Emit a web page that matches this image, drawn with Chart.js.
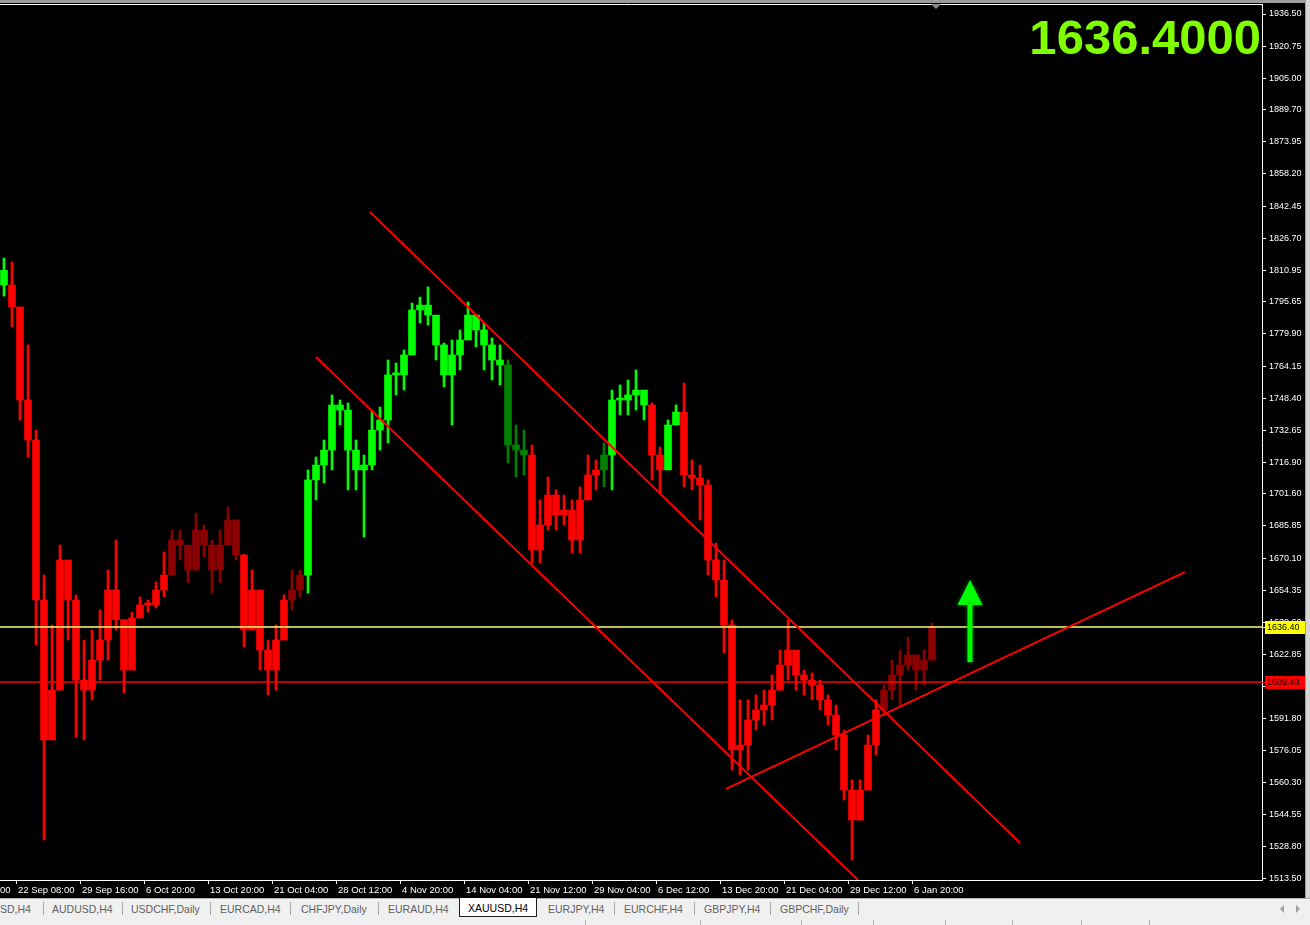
<!DOCTYPE html>
<html>
<head>
<meta charset="utf-8">
<title>XAUUSD,H4</title>
<script src="https://cdn.jsdelivr.net/npm/chart.js@4.4.1/dist/chart.umd.min.js"></script>
<style>
html, body { margin: 0; padding: 0; width: 1310px; height: 925px; overflow: hidden; background: #000; font-family: 'Liberation Sans', Arial, sans-serif; }
#wrap { position: absolute; left: 0; top: 0; width: 1305px; height: 898px; }
#frameRight { position: absolute; left: 1305px; top: 0; width: 5px; height: 898px; background: #d6d6d6; border-left: 1px solid #a0a0a0; box-sizing: border-box; }
#tabs { position: absolute; left: 0; top: 898px; width: 1310px; height: 20px; background: #f0f0f0; border-top: 1px solid #b0b0b0; box-sizing: border-box; font-size: 10.5px; color: #606060; }
.tab { position: absolute; top: 4px; white-space: nowrap; }
.sep { position: absolute; top: 3px; width: 1px; height: 13px; background: #a8a8a8; }
#active { position: absolute; left: 459px; top: -1px; width: 78px; height: 19px; background: #fff; border: 1px solid #202020; border-top: none; box-sizing: border-box; }
#active span { position: absolute; left: 8px; top: 4px; color: #000; }
.arr { position: absolute; top: 6px; width: 0; height: 0; border-top: 4px solid transparent; border-bottom: 4px solid transparent; }
#status { position: absolute; left: 0; top: 918px; width: 1310px; height: 7px; background: #f0f0f0; }
.ssep { position: absolute; top: 2px; width: 1px; height: 5px; background: #b0b0b0; }
</style>
</head>
<body>
<div id="wrap"><canvas id="graficoOuro"></canvas></div>
<div id="frameRight"></div>
<div id="tabs">
  <span class="tab" style="left:0px">SD,H4</span><div class="sep" style="left:43px"></div>
  <span class="tab" style="left:52px">AUDUSD,H4</span><div class="sep" style="left:122px"></div>
  <span class="tab" style="left:131px">USDCHF,Daily</span><div class="sep" style="left:210px"></div>
  <span class="tab" style="left:220px">EURCAD,H4</span><div class="sep" style="left:290px"></div>
  <span class="tab" style="left:301px">CHFJPY,Daily</span><div class="sep" style="left:378px"></div>
  <span class="tab" style="left:388px">EURAUD,H4</span>
  <div id="active"><span>XAUUSD,H4</span></div>
  <span class="tab" style="left:548px">EURJPY,H4</span><div class="sep" style="left:614px"></div>
  <span class="tab" style="left:624px">EURCHF,H4</span><div class="sep" style="left:694px"></div>
  <span class="tab" style="left:704px">GBPJPY,H4</span><div class="sep" style="left:770px"></div>
  <span class="tab" style="left:780px">GBPCHF,Daily</span><div class="sep" style="left:858px"></div>
  <div class="arr" style="left:1280px; border-right:4px solid #a0a0a0"></div>
  <div class="arr" style="left:1296px; border-left:4px solid #a0a0a0"></div>
</div>
<div id="status">
  <div class="ssep" style="left:585px"></div><div class="ssep" style="left:700px"></div>
  <div class="ssep" style="left:801px"></div><div class="ssep" style="left:873px"></div>
  <div class="ssep" style="left:945px"></div><div class="ssep" style="left:1012px"></div>
  <div class="ssep" style="left:1081px"></div><div class="ssep" style="left:1149px"></div>
</div>
<script>
// XAUUSD H4, each entry = 4 consecutive H4 bars (high / low / close)
const firstOpen = 1811.0;
const highs = [
    1817.0, 1815.1, 1787.2, 1774.5, 1732.8, 1661.8, 1637.4, 1676.5, 1667.2, 1652.1,
    1630.0, 1634.9, 1644.7, 1664.3, 1679.0, 1626.6, 1643.7, 1651.1, 1649.6, 1658.4,
    1673.1, 1683.9, 1683.9, 1669.2, 1692.2, 1686.3, 1679.0, 1683.9, 1695.1, 1688.8,
    1672.0, 1664.3, 1652.1, 1630.0, 1637.4, 1652.1, 1664.3, 1664.3, 1713.3, 1719.6,
    1727.9, 1750.0, 1747.5, 1746.1, 1727.9, 1720.6, 1742.6, 1744.1, 1767.1, 1765.6,
    1772.0, 1795.0, 1797.9, 1802.9, 1788.2, 1775.4, 1776.9, 1781.8, 1795.5, 1789.1,
    1785.2, 1777.9, 1774.5, 1767.1, 1735.3, 1732.8, 1725.5, 1698.6, 1709.8, 1703.5,
    1701.0, 1698.6, 1705.0, 1720.6, 1718.2, 1726.5, 1752.4, 1754.9, 1757.3, 1762.2,
    1750.9, 1746.1, 1724.5, 1737.7, 1745.1, 1755.8, 1718.2, 1715.7, 1708.4, 1677.5,
    1669.2, 1639.8, 1600.7, 1600.7, 1603.1, 1605.5, 1612.9, 1625.1, 1639.8, 1617.8,
    1615.3, 1613.9, 1610.4, 1603.1, 1598.2, 1585.9, 1561.5, 1561.5, 1583.5, 1600.7,
    1608.0, 1620.2, 1625.1, 1631.5, 1622.7, 1625.1, 1638.4
];
const lows = [
    1798.4, 1783.3, 1737.7, 1719.6, 1627.6, 1532.1, 1584.5, 1614.8, 1630.0, 1582.5,
    1581.1, 1600.7, 1610.4, 1620.2, 1634.9, 1604.1, 1638.8, 1643.7, 1643.7, 1645.7,
    1651.1, 1676.5, 1669.2, 1657.9, 1664.3, 1670.7, 1653.0, 1657.9, 1676.5, 1669.2,
    1626.6, 1642.3, 1615.3, 1603.1, 1605.5, 1634.9, 1644.7, 1651.1, 1653.0, 1698.6,
    1706.9, 1713.3, 1735.3, 1703.5, 1703.5, 1680.4, 1713.3, 1723.0, 1726.5, 1750.0,
    1752.4, 1769.6, 1785.2, 1784.2, 1767.1, 1753.9, 1735.3, 1762.2, 1781.8, 1773.5,
    1762.2, 1757.3, 1754.9, 1716.7, 1709.8, 1710.8, 1667.7, 1667.7, 1683.9, 1683.9,
    1686.3, 1672.6, 1672.6, 1701.0, 1703.5, 1705.0, 1703.5, 1740.2, 1740.2, 1742.6,
    1737.7, 1708.4, 1702.0, 1723.0, 1735.3, 1705.0, 1703.5, 1688.8, 1661.8, 1651.1,
    1623.7, 1566.4, 1563.9, 1566.4, 1586.0, 1588.4, 1590.9, 1605.5, 1610.4, 1605.5,
    1603.1, 1600.7, 1595.8, 1588.4, 1576.2, 1551.7, 1522.3, 1541.9, 1556.6, 1573.7,
    1593.3, 1600.7, 1597.2, 1615.3, 1605.5, 1608.0, 1620.2
];
const closes = [
    1803.8, 1793.1, 1747.5, 1727.9, 1649.6, 1581.1, 1605.5, 1669.2, 1649.6, 1610.4,
    1605.5, 1620.2, 1630.0, 1654.5, 1640.0, 1615.3, 1640.8, 1647.2, 1647.2, 1654.5,
    1661.8, 1679.0, 1676.5, 1664.3, 1683.9, 1676.5, 1664.3, 1676.5, 1688.8, 1671.6,
    1634.9, 1654.5, 1625.1, 1615.3, 1630.0, 1649.6, 1654.5, 1661.8, 1708.4, 1715.7,
    1723.0, 1745.1, 1742.6, 1723.0, 1713.3, 1715.7, 1732.8, 1737.7, 1759.8, 1759.8,
    1769.6, 1791.6, 1794.0, 1789.1, 1774.5, 1759.8, 1769.6, 1776.9, 1789.1, 1781.8,
    1774.5, 1767.1, 1764.7, 1725.5, 1723.0, 1720.6, 1674.1, 1686.3, 1701.0, 1691.2,
    1693.7, 1679.0, 1698.6, 1710.8, 1713.3, 1720.6, 1747.5, 1747.5, 1750.0, 1752.4,
    1745.1, 1720.6, 1713.3, 1735.3, 1741.6, 1710.8, 1709.3, 1705.9, 1669.2, 1659.4,
    1637.4, 1576.2, 1578.6, 1590.9, 1595.8, 1598.2, 1605.5, 1617.8, 1625.1, 1612.9,
    1610.4, 1608.0, 1600.7, 1593.3, 1583.5, 1556.6, 1541.9, 1556.6, 1578.6, 1595.8,
    1605.5, 1612.9, 1617.8, 1622.7, 1615.3, 1620.2, 1636.4
];
// colour state of the bars (G up, g weak up, R down, r weak down), as runs
const stateRuns = [['G', 1], ['R', 20], ['r', 9], ['R', 6], ['r', 2], ['G', 25], ['g', 3], ['R', 9],
    ['g', 1], ['G', 5], ['R', 2], ['G', 2], ['R', 25], ['r', 7]];

const timeLabels = ['15 Sep 00:00', '22 Sep 08:00', '29 Sep 16:00', '6 Oct 20:00', '13 Oct 20:00',
    '21 Oct 04:00', '28 Oct 12:00', '4 Nov 20:00', '14 Nov 04:00', '21 Nov 12:00', '29 Nov 04:00',
    '6 Dec 12:00', '13 Dec 20:00', '21 Dec 04:00', '29 Dec 12:00', '6 Jan 20:00'];
const priceTicks = [1936.50, 1920.75, 1905.00, 1889.70, 1873.95, 1858.20, 1842.45, 1826.70, 1810.95,
    1795.65, 1779.90, 1764.15, 1748.40, 1732.65, 1716.90, 1701.60, 1685.85, 1670.10, 1654.35, 1638.60,
    1622.85, 1607.10, 1591.80, 1576.05, 1560.30, 1544.55, 1528.80, 1513.50];

// objects on the chart: [bar position, price]
const canalSuperior = [[45.75, 1839.6], [127.0, 1530.6]];
const canalInferior = [[39.0, 1768.6], [106.75, 1512.5]];
const linhaSuporte = [[90.25, 1557.1], [147.6, 1663.3]];
const precoBid = 1636.40;
const linhaHorizontal = 1609.48;
const setaCompra = [120.75, 1659.4, 1619.2];

const xMin = -0.5, xMax = 157.25;
const yMin = 1512.53, yMax = 1941.40;
const primeiroRotulo = -6.5, barrasPorRotulo = 8;

const cores = { G: '#00ff00', g: '#008000', R: '#ff0000', r: '#8b0000' };
const estados = [];
stateRuns.forEach(([s, n]) => { for (let k = 0; k < n; k++) estados.push(s); });
const corBarra = estados.map(s => cores[s]);
const opens = closes.map((c, i) => i === 0 ? firstOpen : closes[i - 1]);

const fonteEixo = "'Liberation Sans', Arial, sans-serif";

const desenhaObjetos = {
    id: 'objetosMT4',
    afterDraw(chart) {
        const { ctx, chartArea, scales: { x, y } } = chart;
        ctx.save();
        // moldura superior
        ctx.fillStyle = '#9c9c9c';
        ctx.fillRect(0, 0, chart.width, 3);
        ctx.strokeStyle = '#ffffff';
        ctx.lineWidth = 1;
        ctx.beginPath();
        ctx.moveTo(0, chartArea.top + 0.5);
        ctx.lineTo(chartArea.right + 1, chartArea.top + 0.5);
        ctx.stroke();

        // marcador de deslocamento
        const xs = x.getPixelForValue(116.5);
        ctx.fillStyle = '#8a8a8a';
        ctx.beginPath();
        ctx.moveTo(xs - 5, chartArea.top);
        ctx.lineTo(xs + 5, chartArea.top);
        ctx.lineTo(xs, chartArea.top + 5);
        ctx.closePath();
        ctx.fill();

        // seta verde
        const ax = x.getPixelForValue(setaCompra[0]);
        const aTop = y.getPixelForValue(setaCompra[1]);
        const aBot = y.getPixelForValue(setaCompra[2]);
        ctx.shadowColor = 'rgba(0,140,0,0.9)';
        ctx.shadowBlur = 4;
        ctx.fillStyle = '#00ff00';
        ctx.beginPath();
        ctx.moveTo(ax, aTop);
        ctx.lineTo(ax + 12.5, aTop + 25);
        ctx.lineTo(ax - 12.5, aTop + 25);
        ctx.closePath();
        ctx.fill();
        ctx.fillRect(ax - 2.5, aTop + 24, 5, aBot - aTop - 24);
        ctx.shadowBlur = 0;

        // etiquetas de preço no eixo
        const etiqueta = (valor, fundo, linha) => {
            const py = Math.round(y.getPixelForValue(valor));
            ctx.fillStyle = linha;
            ctx.fillRect(chartArea.right, py, 3, 1);
            ctx.fillStyle = fundo;
            ctx.fillRect(chartArea.right + 3, py - 6, 40, 13);
            ctx.fillStyle = '#000000';
            ctx.font = '9px ' + fonteEixo;
            ctx.textAlign = 'left';
            ctx.textBaseline = 'middle';
            ctx.fillText(valor.toFixed(2), chartArea.right + 5, py + 0.5);
        };
        etiqueta(precoBid, '#ffff00', '#ffff60');
        etiqueta(linhaHorizontal, '#ff0000', '#ff0000');

        // preço grande
        ctx.fillStyle = '#80ff00';
        ctx.font = 'bold 49px ' + fonteEixo;
        ctx.textAlign = 'right';
        ctx.textBaseline = 'alphabetic';
        ctx.fillText(precoBid.toFixed(4), chartArea.right - 1, 54);
        ctx.restore();
    }
};

const indices = closes.map((c, i) => i);
const linha = (pontos, cor, largura) => ({
    type: 'line',
    data: pontos.map(([px, py]) => ({ x: px, y: py })),
    borderColor: cor,
    borderWidth: largura,
    pointRadius: 0,
    tension: 0,
    order: 1
});

const graficoOuro = new Chart(document.getElementById('graficoOuro'), {
    type: 'bar',
    data: {
        datasets: [
            {
                label: 'sombras',
                data: indices.map(i => ({ x: i, y: [lows[i], highs[i]] })),
                backgroundColor: corBarra,
                barThickness: 2,
                grouped: false,
                order: 3
            },
            {
                label: 'corpos',
                data: indices.map(i => ({ x: i, y: [opens[i], closes[i]] })),
                backgroundColor: corBarra,
                barThickness: 7,
                minBarLength: 2,
                grouped: false,
                order: 2
            },
            linha(canalSuperior, '#ff0000', 2),
            linha(canalInferior, '#ff0000', 2),
            linha(linhaSuporte, '#ff0000', 2),
            linha([[xMin, precoBid], [xMax, precoBid]], '#ffff70', 1.4),
            linha([[xMin, linhaHorizontal], [xMax, linhaHorizontal]], '#ff0000', 1.4)
        ]
    },
    options: {
        responsive: true,
        maintainAspectRatio: false,
        devicePixelRatio: 1,
        animation: false,
        events: [],
        layout: { padding: { top: 4, left: 0, right: 0, bottom: 0 } },
        plugins: { legend: { display: false }, tooltip: { enabled: false } },
        scales: {
            x: {
                type: 'linear',
                offset: false,
                min: xMin,
                max: xMax,
                afterBuildTicks: scale => {
                    scale.ticks = timeLabels.map((t, k) => ({ value: primeiroRotulo + k * barrasPorRotulo }));
                },
                afterFit: scale => {
                    scale.height = 18;
                    scale.paddingLeft = 0;
                    scale.paddingRight = 0;
                },
                grid: { offset: false, drawOnChartArea: false, drawTicks: true, tickLength: 4, color: '#ffffff' },
                border: { display: true, color: '#ffffff', width: 1 },
                ticks: {
                    autoSkip: false,
                    maxRotation: 0,
                    align: 'start',
                    labelOffset: 2,
                    padding: 1,
                    color: '#ffffff',
                    font: { family: fonteEixo, size: 9.5 },
                    callback: (v, i) => timeLabels[i]
                }
            },
            y: {
                type: 'linear',
                position: 'right',
                min: yMin,
                max: yMax,
                afterBuildTicks: scale => {
                    scale.ticks = priceTicks.map(v => ({ value: v }));
                },
                afterFit: scale => {
                    scale.width = 43;
                    scale.paddingTop = 0;
                    scale.paddingBottom = 0;
                },
                grid: { drawOnChartArea: false, drawTicks: true, tickLength: 4, color: '#ffffff' },
                border: { display: true, color: '#ffffff', width: 1 },
                ticks: {
                    autoSkip: false,
                    padding: 3,
                    color: '#ffffff',
                    font: { family: fonteEixo, size: 9 },
                    callback: v => v.toFixed(2)
                }
            }
        }
    },
    plugins: [desenhaObjetos]
});
</script>
</body>
</html>
